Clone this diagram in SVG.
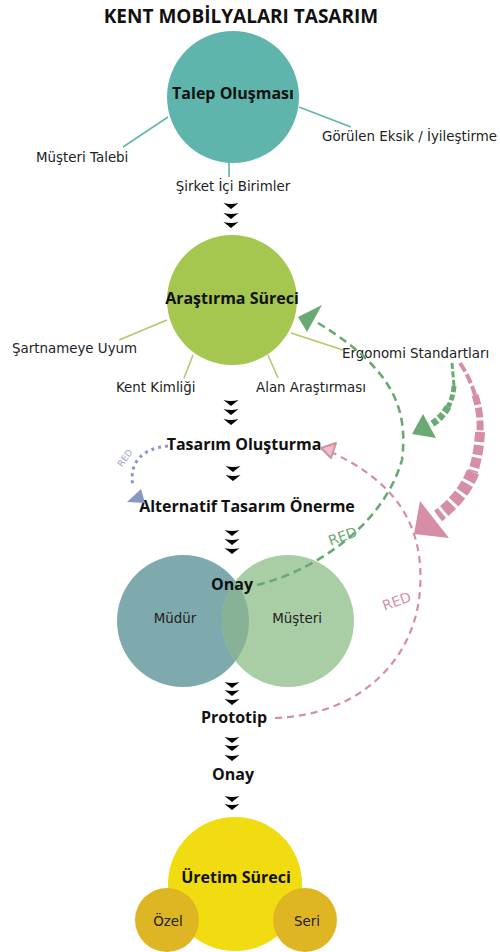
<svg xmlns="http://www.w3.org/2000/svg" xmlns:xlink="http://www.w3.org/1999/xlink" width="500" height="952" viewBox="0 0 500 952">
<style>
.bold{font-family:"Open Sans","Liberation Sans",sans-serif;font-weight:700;fill:#111;font-size:16px;}
.lab{font-family:"DejaVu Sans","Liberation Sans",sans-serif;font-size:13.4px;fill:#222;}
.red{font-family:"DejaVu Sans","Liberation Sans",sans-serif;font-size:14px;}
.tl{stroke:#5fb5ab;stroke-width:1.6;fill:none;}
.gl{stroke:#b3c96a;stroke-width:1.6;fill:none;}
.chev{fill:#000;}
</style>
<defs>
<path id="chev" d="M-7.5,0 Q0,2 7.5,0 L0,6 Z"/>
<clipPath id="clipL"><circle cx="183" cy="621" r="66"/></clipPath>
</defs>
<rect width="500" height="952" fill="#fff"/>

<text class="bold" x="241" y="23" style="font-size:19px" text-anchor="middle">KENT MOBİLYALARI TASARIM</text>

<g id="talep">
<line class="tl" x1="168" y1="117" x2="123" y2="147"/>
<line class="tl" x1="299" y1="107" x2="351" y2="127"/>
<line class="tl" x1="229" y1="160" x2="229" y2="177"/>
<circle cx="233" cy="97" r="66" fill="#5fb5ab"/>
<text class="bold" x="233" y="99" text-anchor="middle">Talep Oluşması</text>
<text class="lab" x="36" y="162">Müşteri Talebi</text>
<text class="lab" x="322" y="141">Görülen Eksik / İyileştirme</text>
<text class="lab" x="233" y="191" text-anchor="middle">Şirket İçi Birimler</text>
</g>

<g id="arastirma">
<line class="gl" x1="167" y1="320" x2="119" y2="340"/>
<line class="gl" x1="193" y1="355" x2="184" y2="378"/>
<line class="gl" x1="268" y1="355" x2="278" y2="378"/>
<line class="gl" x1="291" y1="333" x2="343" y2="350"/>
<circle cx="232" cy="300" r="65" fill="#a5c64f"/>
<text class="bold" x="232" y="304" text-anchor="middle">Araştırma Süreci</text>
<text class="lab" x="12" y="353">Şartnameye Uyum</text>
<text class="lab" x="116" y="392">Kent Kimliği</text>
<text class="lab" x="256" y="392">Alan Araştırması</text>
<text class="lab" x="342" y="358">Ergonomi Standartları</text>
</g>

<g id="tasarim">
<text class="bold" x="244" y="450" text-anchor="middle">Tasarım Oluşturma</text>
</g>
<g id="alternatif">
<text class="bold" x="247" y="512" text-anchor="middle">Alternatif Tasarım Önerme</text>
</g>

<g id="onay1">
<circle cx="183" cy="621" r="66" fill="#7ea9ad"/>
<circle cx="288" cy="621" r="66" fill="#a9cea6"/>
<circle cx="288" cy="621" r="66" fill="#88b296" clip-path="url(#clipL)"/>
<text class="bold" x="232" y="590" text-anchor="middle">Onay</text>
<text class="lab" x="175" y="623" text-anchor="middle">Müdür</text>
<text class="lab" x="297" y="623" text-anchor="middle">Müşteri</text>
</g>

<g id="prototip">
<text class="bold" x="234" y="723" text-anchor="middle">Prototip</text>
</g>
<g id="onay2">
<text class="bold" x="233" y="780" text-anchor="middle">Onay</text>
</g>

<g id="uretim">
<circle cx="235" cy="884" r="67" fill="#f0dc10"/>
<circle cx="167" cy="920" r="32" fill="#deb523"/>
<circle cx="305" cy="920" r="32" fill="#deb523"/>
<text class="bold" x="236" y="883" text-anchor="middle">Üretim Süreci</text>
<text class="lab" x="168" y="926" text-anchor="middle">Özel</text>
<text class="lab" x="307" y="926" text-anchor="middle">Seri</text>
</g>

<g id="connectors">
<g class="chev">
<use xlink:href="#chev" x="231" y="203"/><use xlink:href="#chev" x="231" y="213"/><use xlink:href="#chev" x="231" y="222"/>
<use xlink:href="#chev" x="231" y="400"/><use xlink:href="#chev" x="231" y="409"/><use xlink:href="#chev" x="231" y="419"/>
<use xlink:href="#chev" x="233" y="466"/><use xlink:href="#chev" x="233" y="475"/>
<use xlink:href="#chev" x="232" y="530"/><use xlink:href="#chev" x="232" y="539"/><use xlink:href="#chev" x="232" y="548"/>
<use xlink:href="#chev" x="232" y="682"/><use xlink:href="#chev" x="232" y="690"/><use xlink:href="#chev" x="232" y="699"/>
<use xlink:href="#chev" x="232" y="737"/><use xlink:href="#chev" x="232" y="745"/><use xlink:href="#chev" x="232" y="755"/>
<use xlink:href="#chev" x="232" y="796"/><use xlink:href="#chev" x="232" y="804"/>
</g>

<!-- green thin dashed RED: Onay -> Araştırma -->
<path d="M257,585 C300,575 380,535 402,460 C408,410 395,370 318,323" fill="none" stroke="#6aa874" stroke-width="2.6" stroke-dasharray="8 5"/>
<polygon points="298,317 322,305 307,332" fill="#6aa874"/>
<text class="red" x="343" y="541" fill="#6aa874" text-anchor="middle" transform="rotate(-20 343 537)">RED</text>

<!-- pink thin dashed RED: Prototip -> Tasarım -->
<path d="M275,718 C360,715 415,660 420,590 C425,520 390,480 333,453" fill="none" stroke="#d48fa6" stroke-width="2.2" stroke-dasharray="7 5"/>
<polygon points="321,448 336,443 331,458" fill="#e9bfcc" stroke="#d48fa6" stroke-width="2" stroke-linejoin="round"/>
<text class="red" x="397" y="606" fill="#d48fa6" text-anchor="middle" transform="rotate(-20 397 602)">RED</text>

<!-- blue dotted RED: Tasarım -> Alternatif -->
<path d="M168,446 C145,448 128,460 133,487" fill="none" stroke="#8a97c2" stroke-width="3" stroke-dasharray="3 4"/>
<polygon points="127,502 141,489 145,503" fill="#8a97c2"/>
<text class="red" x="125" y="461" fill="#9aa3c8" style="font-size:9px" text-anchor="middle" transform="rotate(-55 125 458)">RED</text>

<!-- thick green tapered arrow -->
<g fill="none" stroke="#6aa874" stroke-dasharray="6 2.5">
<path d="M452,363 L454,386" stroke-width="3"/>
<path d="M454,386 Q453,398 448,407" stroke-width="5"/>
<path d="M448,407 Q441,419 430,425" stroke-width="7"/>
</g>
<polygon points="412,434 423,414 436,438" fill="#6aa874"/>

<!-- thick pink tapered arrow -->
<g fill="none" stroke="#d68ea6" stroke-dasharray="10 3">
<path d="M460,363 Q470,378 475,395" stroke-width="4"/>
<path d="M475,395 Q481,413 480,432" stroke-width="7"/>
<path d="M480,432 Q479,453 473,472" stroke-width="10"/>
<path d="M473,472 Q463,497 438,516" stroke-width="13"/>
</g>
<polygon points="414,534 420,501 449,538" fill="#d68ea6"/>
</g>
</svg>
